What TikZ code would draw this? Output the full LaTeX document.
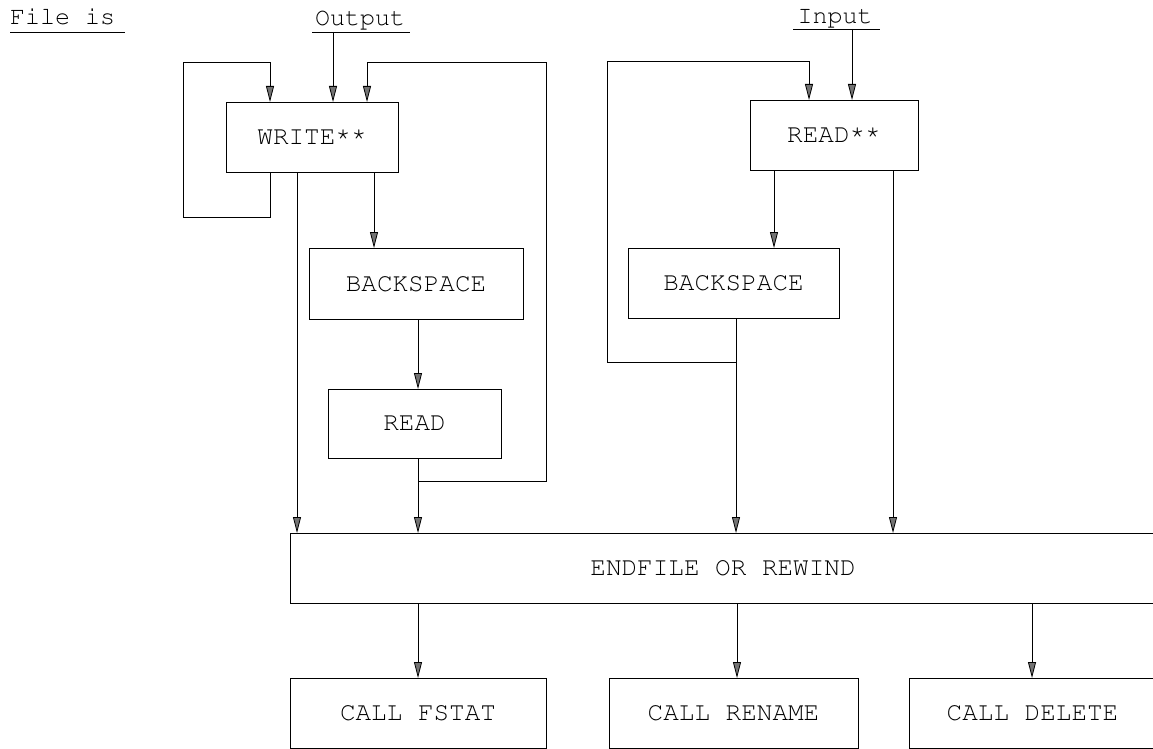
\documentclass[tikz,border=0pt]{standalone}
\usepackage[T1]{fontenc}
\usepackage{courier}
\usetikzlibrary{arrows.meta}
\newcommand{\stars}{\raisebox{4pt}{**}}
\begin{document}
\begin{tikzpicture}[x=1pt,y=-1pt,
  line width=0.8pt,
  box/.style={draw, line width=0.9pt, inner sep=0pt, outer sep=0pt, minimum height=70pt,
    font=\fontfamily{pcr}\fontsize{26pt}{30pt}\selectfont},
  lbl/.style={inner sep=0pt, outer sep=0pt, anchor=base,
    font=\fontfamily{pcr}\fontsize{25pt}{30pt}\selectfont},
  arr/.style={-{Triangle[length=16pt,width=8pt,fill=black!55]}}
]
\useasboundingbox (0,0) rectangle (1153,749);
\clip (0,0) rectangle (1153,749);

% labels
\node[lbl, anchor=base west] (fileis) at (10,25) {File is};
\node[lbl] (output) at (360,26) {Output};
\node[lbl] (input) at (835,24) {Input};
\draw (10,32) -- (125,32);
\draw (312,32) -- (410,32);
\draw (793,29) -- (880,29);

% boxes
\node[box, minimum width=172pt] (write) at (312,137) {WRITE\stars};
\node[box, minimum width=214pt, minimum height=71pt] (bsL) at (416,283.5) {BACKSPACE};
\node[box, minimum width=173pt, minimum height=69pt] (readL) at (414.5,423.5) {READ};
\node[box, minimum width=168pt] (readS) at (834,135) {READ\stars};
\node[box, minimum width=211pt] (bsR) at (733.5,283) {BACKSPACE};
\node[box, minimum width=866pt] (endf) at (723,568) {ENDFILE OR REWIND};
\node[box, minimum width=256pt] (fstat) at (418,713) {CALL FSTAT};
\node[box, minimum width=249pt] (rename) at (733.5,713) {CALL RENAME};
\node[box, minimum width=247pt] (delete) at (1032.5,713) {CALL DELETE};

% coordinates
\coordinate (oa) at (333,32);
\coordinate (c1) at (270,217);
\coordinate (c2) at (183,217);
\coordinate (c3) at (183,62);
\coordinate (c4) at (270,62);
\coordinate (w1) at (297,0);
\coordinate (w2) at (374,0);
\coordinate (r1) at (418,0);
\coordinate (j1) at (418,481);
\coordinate (j2) at (546,481);
\coordinate (j3) at (546,62);
\coordinate (j4) at (367,62);

\coordinate (ia) at (852,29);
\coordinate (s1) at (774,0);
\coordinate (s2) at (893,0);
\coordinate (b1) at (736,0);
\coordinate (k1) at (736,362);
\coordinate (k2) at (607,362);
\coordinate (k3) at (607,61);
\coordinate (k4) at (809,61);

\coordinate (e1) at (418,0);
\coordinate (e2) at (737,0);
\coordinate (e3) at (1032,0);

% left (output) side
\draw[arr] (oa) -- (write.north -| oa);
\draw[arr] (write.south -| c1) -- (c1) -- (c2) -- (c3) -- (c4) -- (write.north -| c4);
\draw[arr] (write.south -| w1) -- (endf.north -| w1);
\draw[arr] (write.south -| w2) -- (bsL.north -| w2);
\draw[arr] (bsL.south -| r1) -- (readL.north -| r1);
\draw[arr] (readL.south -| r1) -- (endf.north -| r1);
\draw[arr] (j1) -- (j2) -- (j3) -- (j4) -- (write.north -| j4);

% right (input) side
\draw[arr] (ia) -- (readS.north -| ia);
\draw[arr] (readS.south -| s1) -- (bsR.north -| s1);
\draw[arr] (readS.south -| s2) -- (endf.north -| s2);
\draw[arr] (bsR.south -| b1) -- (endf.north -| b1);
\draw[arr] (k1) -- (k2) -- (k3) -- (k4) -- (readS.north -| k4);

% bottom
\draw[arr] (endf.south -| e1) -- (fstat.north -| e1);
\draw[arr] (endf.south -| e2) -- (rename.north -| e2);
\draw[arr] (endf.south -| e3) -- (delete.north -| e3);
\end{tikzpicture}
\end{document}
